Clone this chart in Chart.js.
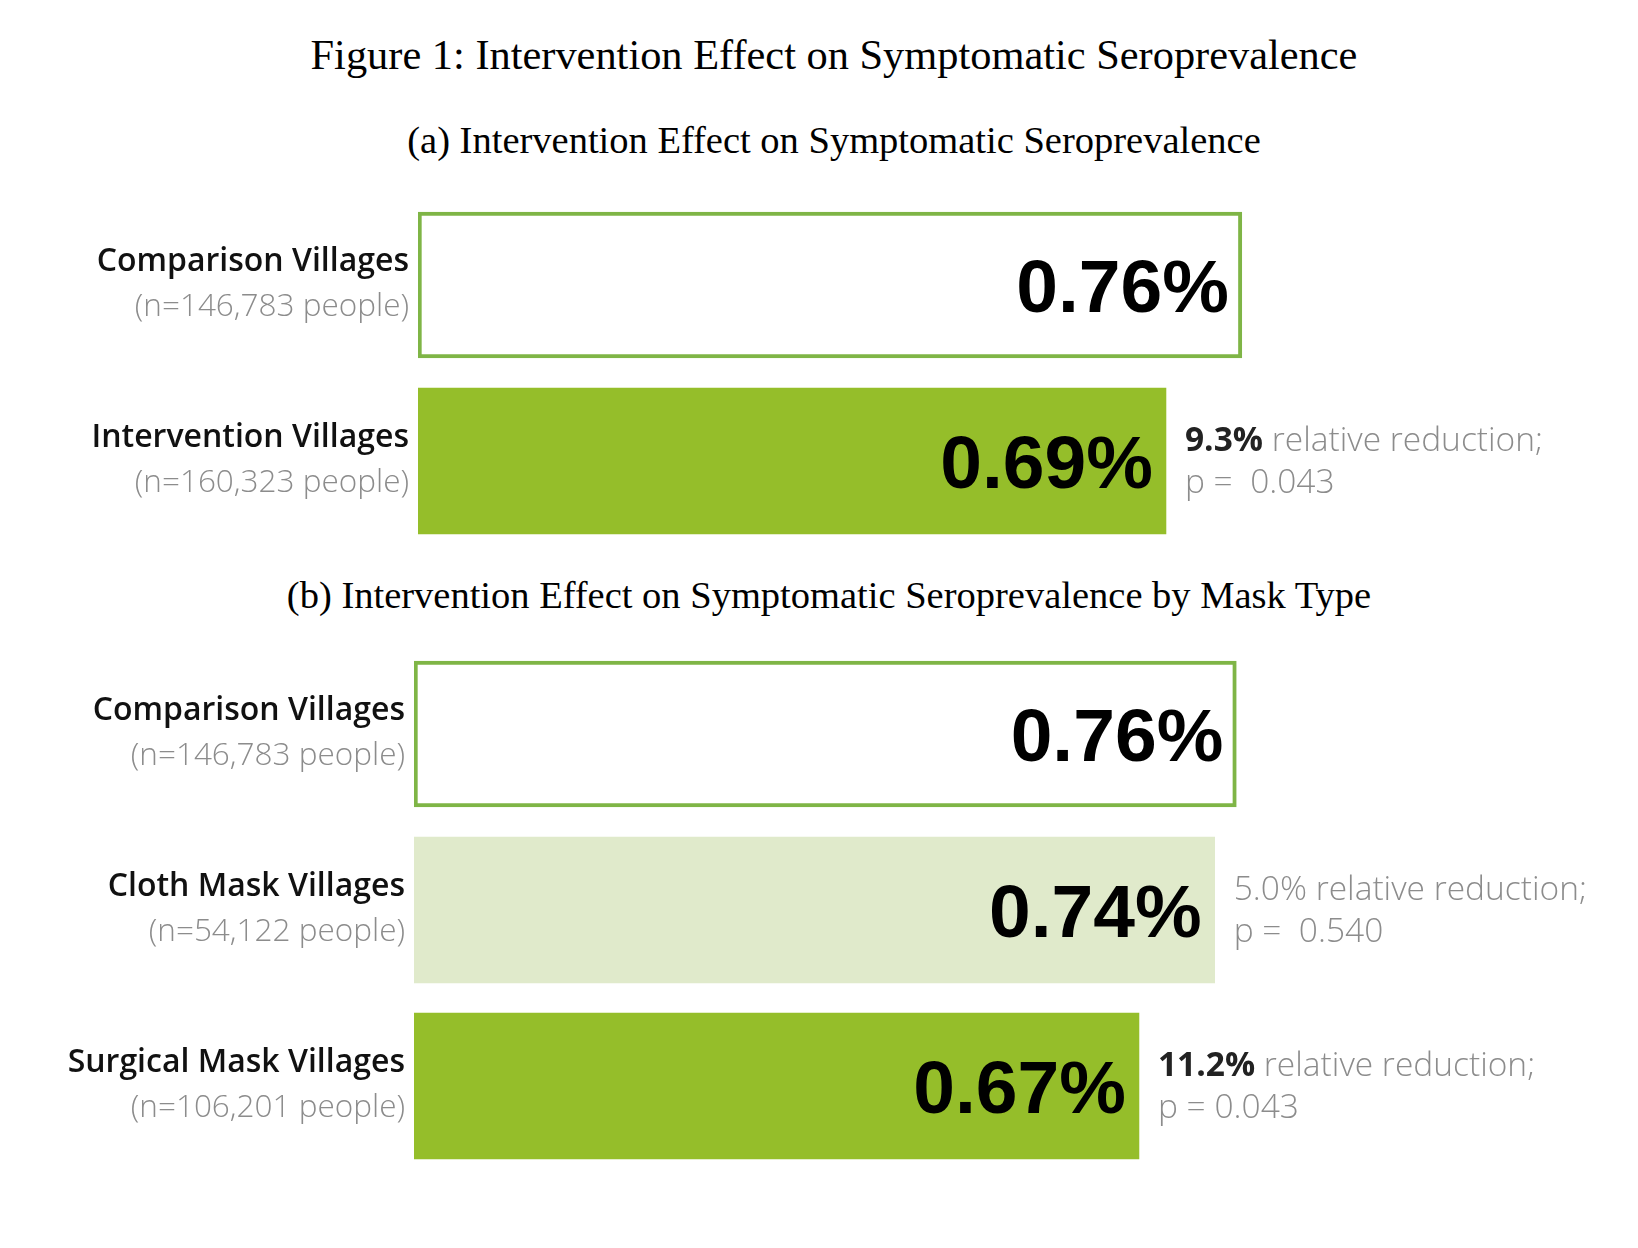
<!DOCTYPE html>
<html>
<head>
<meta charset="utf-8">
<script src="https://cdn.jsdelivr.net/npm/chart.js@4/dist/chart.umd.min.js"></script>
<style>
  html, body { margin: 0; padding: 0; background: #fff; }
  body { width: 1638px; height: 1248px; position: relative; overflow: hidden; }
  .cap { position: absolute; width: 1638px; text-align: center; font-family: "Liberation Serif", "Times New Roman", serif; color: #000; white-space: nowrap; }
  #fig-title { top: 30px; left: 15px; font-size: 42.4px; }
  #title-a { top: 118px; left: 15px; font-size: 38.5px; }
  #title-b { top: 573px; left: 10px; font-size: 38.5px; }
  canvas { position: absolute; left: 0; }
  #chart-a { top: 197px; }
  #chart-b { top: 646px; }
</style>
</head>
<body>
<div class="cap" id="fig-title">Figure 1: Intervention Effect on Symptomatic Seroprevalence</div>
<div class="cap" id="title-a">(a) Intervention Effect on Symptomatic Seroprevalence</div>
<canvas id="chart-a" width="1638" height="352"></canvas>
<div class="cap" id="title-b">(b) Intervention Effect on Symptomatic Seroprevalence by Mask Type</div>
<canvas id="chart-b" width="1638" height="528"></canvas>
<script>
// panel (a)
const A_GROUPS = ['Comparison Villages', 'Intervention Villages'];
const A_SIZES = ['(n=146,783 people)', '(n=160,323 people)'];
const A_VALUES = [0.76, 0.69];
const A_REDUCTION = [null, '9.3%'];
const A_PVALUE = [null, 'p =  0.043'];

// panel (b)
const B_GROUPS = ['Comparison Villages', 'Cloth Mask Villages', 'Surgical Mask Villages'];
const B_SIZES = ['(n=146,783 people)', '(n=54,122 people)', '(n=106,201 people)'];
const B_VALUES = [0.76, 0.74, 0.67];
const B_REDUCTION = [null, '5.0%', '11.2%'];
const B_PVALUE = [null, 'p =  0.540', 'p = 0.043'];
const B_SIGNIFICANT = [false, false, true];

const GREEN = '#95be2a';
const LIGHT_GREEN = '#e0eacb';
const BORDER_GREEN = '#7fb546';
const LABEL_FONT = '"Open Sans", "Noto Sans", sans-serif';
const VALUE_FONT = '"Liberation Sans", Arial, sans-serif';

function fmtPct(v) { return v.toFixed(2) + '%'; }

var labelPlugin = {
  id: 'barLabels',
  afterDatasetsDraw: function(chart, args, opts) {
    var ctx = chart.ctx;
    var bars = chart.getDatasetMeta(0).data;
    var left = chart.chartArea.left;
    ctx.save();
    bars.forEach(function(bar, i) {
      var y = bar.y;
      // group name + sample size, right aligned against the bars
      ctx.textAlign = 'right';
      ctx.textBaseline = 'middle';
      ctx.fillStyle = '#111';
      ctx.font = '600 32px ' + LABEL_FONT;
      ctx.fillText(opts.groups[i], left - 9, y - 23);
      ctx.fillStyle = '#8c8c8c';
      ctx.font = '300 31.5px ' + LABEL_FONT;
      ctx.fillText(opts.sizes[i], left - 9, y + 22);

      // big value inside the bar end
      ctx.textBaseline = 'alphabetic';
      ctx.fillStyle = '#000';
      ctx.font = 'bold 75px ' + VALUE_FONT;
      ctx.fillText(fmtPct(opts.values[i]), bar.x - 13, y + 27);

      // reduction note to the right
      if (opts.reduction[i]) {
        var x = bar.x + 19;
        ctx.textAlign = 'left';
        ctx.textBaseline = 'middle';
        var strong = opts.significant[i];
        ctx.font = (strong ? '700' : '300') + ' 33.5px ' + LABEL_FONT;
        ctx.fillStyle = strong ? '#222' : '#8c8c8c';
        ctx.fillText(opts.reduction[i], x, y - 20);
        var w = ctx.measureText(opts.reduction[i]).width;
        ctx.font = '300 33.5px ' + LABEL_FONT;
        ctx.fillStyle = '#8c8c8c';
        ctx.fillText(' relative reduction;', x + w, y - 20);
        ctx.fillText(opts.pvalue[i], x, y + 22);
      }
    });
    ctx.restore();
  }
};

function makeChart(id, groups, values, fills, borders, padLeft, padRight, extra) {
  return new Chart(document.getElementById(id), {
    type: 'bar',
    data: {
      labels: groups,
      datasets: [{
        data: values,
        backgroundColor: fills,
        borderColor: BORDER_GREEN,
        borderWidth: borders,
        borderSkipped: false,
        barThickness: 146,
      }],
    },
    options: {
      indexAxis: 'y',
      responsive: false,
      animation: false,
      layout: { padding: { left: padLeft, right: padRight, top: 0, bottom: 0 } },
      scales: {
        x: { display: false, min: 0, max: 1 },
        y: { display: false },
      },
      plugins: {
        legend: { display: false },
        tooltip: { enabled: false },
        barLabels: extra,
      },
    },
    plugins: [labelPlugin],
  });
}

makeChart('chart-a', A_GROUPS, A_VALUES, ['#ffffff', GREEN], [4, 0], 418, 136, {
  groups: A_GROUPS, sizes: A_SIZES, values: A_VALUES,
  reduction: A_REDUCTION, pvalue: A_PVALUE, significant: [false, true],
});

makeChart('chart-b', B_GROUPS, B_VALUES, ['#ffffff', LIGHT_GREEN, GREEN], [4, 0, 0], 414, 142, {
  groups: B_GROUPS, sizes: B_SIZES, values: B_VALUES,
  reduction: B_REDUCTION, pvalue: B_PVALUE, significant: B_SIGNIFICANT,
});
</script>
</body>
</html>
